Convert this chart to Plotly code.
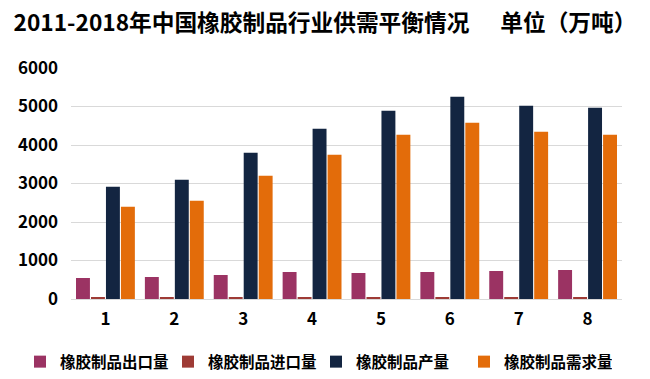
import plotly.graph_objects as go

categories = ["1", "2", "3", "4", "5", "6", "7", "8"]
export_vals = [546, 572, 624, 702, 676, 702, 728, 754]
import_vals = [35, 35, 35, 35, 35, 52, 52, 52]
production_vals = [2913, 3095, 3797, 4422, 4890, 5254, 5020, 4968]
demand_vals = [2393, 2549, 3199, 3745, 4266, 4578, 4344, 4266]

series_names = ["橡胶制品出口量", "橡胶制品进口量", "橡胶制品产量", "橡胶制品需求量"]
series_colors = ["#9B3363", "#9E3B35", "#132541", "#E36C0A"]
series_data = [export_vals, import_vals, production_vals, demand_vals]

FONT = "Noto Sans CJK SC, Microsoft YaHei, sans-serif"

fig = go.Figure()
for name, color, vals in zip(series_names, series_colors, series_data):
    fig.add_trace(go.Bar(x=categories, y=vals, name=name, marker_color=color,
                         marker_line_width=0))

fig.update_layout(
    width=650, height=379,
    paper_bgcolor="white", plot_bgcolor="white",
    margin=dict(l=71, r=28, t=68, b=80, autoexpand=False),
    barmode="group", bargap=0.13, bargroupgap=0.07,
    title=dict(text="2011-2018年中国橡胶制品行业供需平衡情况      单位（万吨）",
               x=0.5, xanchor="center", xref="container", y=0.94, yanchor="middle",
               yref="container",
               font=dict(family=FONT, size=22.7, color="#000000", weight="bold")),
    legend=dict(orientation="h", x=-0.0926, xanchor="left", xref="paper",
                y=-0.273, yanchor="middle", yref="paper",
                font=dict(family=FONT, size=15.5, color="#000000", weight="bold"),
                itemwidth=30, tracegroupgap=0, entrywidth=103, entrywidthmode="pixels"),
    font=dict(family=FONT, color="#000000"),
)
fig.update_xaxes(type="category", showgrid=False, showline=False, ticks="",
                 ticklabelstandoff=8,
                 tickfont=dict(family=FONT, size=17, color="#000000", weight="bold"))
fig.update_yaxes(range=[0, 6000], dtick=1000, showgrid=True, gridcolor="#D9D9D9",
                 gridwidth=1, zeroline=True, zerolinecolor="#D9D9D9", zerolinewidth=1,
                 ticks="", ticklabelstandoff=12,
                 tickfont=dict(family=FONT, size=17, color="#000000", weight="bold"))

fig.write_html("out.html", config={"displayModeBar": False},
               post_script="document.body.style.margin='0';")
